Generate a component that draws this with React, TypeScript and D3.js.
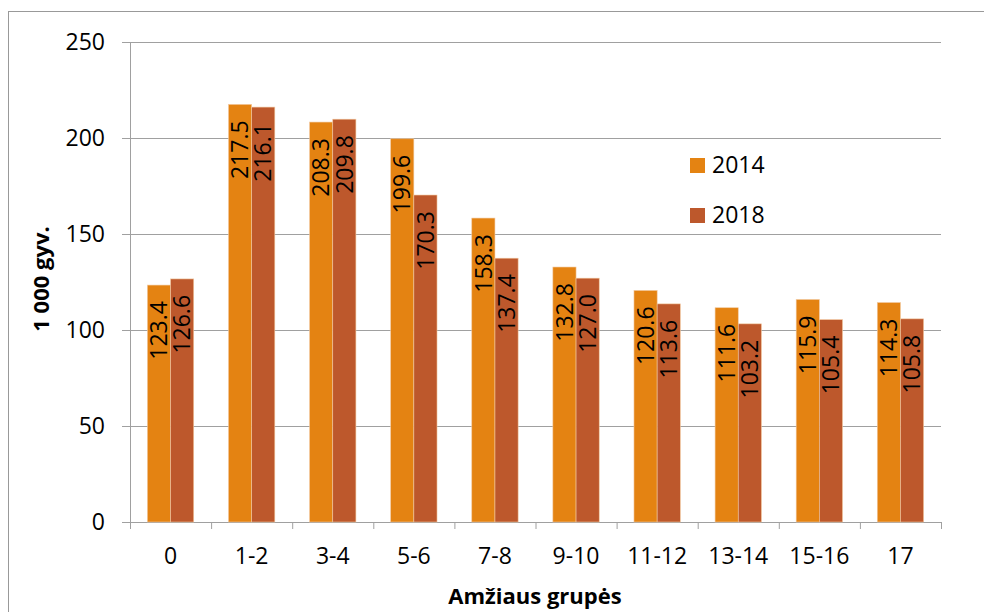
import React from "react";
import * as d3 from "d3";

const categories = ["0", "1-2", "3-4", "5-6", "7-8", "9-10", "11-12", "13-14", "15-16", "17"];
const series2014 = [123.4, 217.5, 208.3, 199.6, 158.3, 132.8, 120.6, 111.6, 115.9, 114.3];
const series2018 = [126.6, 216.1, 209.8, 170.3, 137.4, 127.0, 113.6, 103.2, 105.4, 105.8];
const seriesNames = ["2014", "2018"];
const yTicks = [0, 50, 100, 150, 200, 250];

const colors = ["#E48312", "#BD582C"];
const FONT = "'Open Sans', 'Noto Sans', sans-serif";

export default function App() {
  const W = 984, H = 612;
  const left = 130, right = 941, top = 42, bottom = 522;
  const x = d3.scaleBand<string>().domain(categories).range([left, right]).paddingInner(0).paddingOuter(0);
  const y = d3.scaleLinear().domain([0, 250]).range([bottom, top]);
  const bw = x.bandwidth();
  const barW = bw / (2 + 1.5);
  const groupOffset = (bw - 2 * barW) / 2;
  const all = [series2014, series2018];
  const fs = 23;

  return (
    <svg width={W} height={H} style={{ position: "absolute", left: 0, top: 0, background: "#fff" }} fontFamily={FONT}>
      <rect x={8.5} y={11.5} width={1000} height={700} fill="#fff" stroke="#999" strokeWidth={1} />
      {yTicks.map((t) => (
        <g key={t}>
          <line x1={left - 8} x2={right} y1={y(t) + 0.5} y2={y(t) + 0.5} stroke="#A0A0A0" strokeWidth={1} />
          <text x={105} y={y(t) + 8.3} textAnchor="end" fontSize={fs} fill="#000">{t}</text>
        </g>
      ))}
      <line x1={left + 0.5} x2={left + 0.5} y1={top} y2={bottom} stroke="#A0A0A0" />
      {categories.map((c, i) => (
        <line key={"tk" + i} x1={x(c)! + 0.5} x2={x(c)! + 0.5} y1={bottom} y2={bottom + 7} stroke="#A0A0A0" />
      ))}
      <line x1={right + 0.5} x2={right + 0.5} y1={bottom} y2={bottom + 7} stroke="#A0A0A0" />
      {all.map((s, si) =>
        s.map((v, i) => {
          const bx = x(categories[i])! + groupOffset + si * barW;
          const by = y(v);
          return (
            <g key={si + "-" + i}>
              <rect x={bx} y={by} width={barW} height={bottom - by} fill={colors[si]} stroke="#F2C9A0" strokeWidth={0.6} />
              <text
                transform={`translate(${bx + barW / 2 + 8.2},${by + 16}) rotate(-90)`}
                textAnchor="end"
                fontSize={fs}
                fill="#000"
              >
                {v.toFixed(1)}
              </text>
            </g>
          );
        })
      )}
      {categories.map((c) => (
        <text key={"xl" + c} x={x(c)! + bw / 2} y={564} textAnchor="middle" fontSize={fs} fill="#000">{c}</text>
      ))}
      <text x={535} y={604} textAnchor="middle" fontSize={22} fontWeight="bold" fill="#000">Amžiaus grupės</text>
      <text transform="translate(49,279) rotate(-90)" textAnchor="middle" fontSize={22} fontWeight="bold" fill="#000">1 000 gyv.</text>
      {seriesNames.map((n, i) => (
        <g key={n}>
          <rect x={690} y={158 + i * 50} width={15} height={15} fill={colors[i]} />
          <text x={712} y={173 + i * 50} fontSize={fs} fill="#000">{n}</text>
        </g>
      ))}
    </svg>
  );
}
